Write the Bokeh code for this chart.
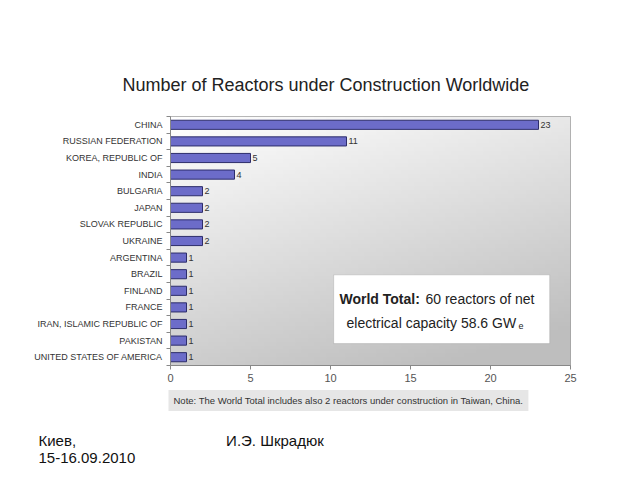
import numpy as np
from bokeh.plotting import figure
from bokeh.models import Label, Range1d, FixedTicker, ColumnDataSource, BoxAnnotation, Title
from bokeh.core.properties import value
from bokeh.embed import file_html
from bokeh.resources import INLINE

countries = ["CHINA", "RUSSIAN FEDERATION", "KOREA, REPUBLIC OF", "INDIA", "BULGARIA",
             "JAPAN", "SLOVAK REPUBLIC", "UKRAINE", "ARGENTINA", "BRAZIL", "FINLAND",
             "FRANCE", "IRAN, ISLAMIC REPUBLIC OF", "PAKISTAN", "UNITED STATES OF AMERICA"]
reactors = [23, 11, 5, 4, 2, 2, 2, 2, 1, 1, 1, 1, 1, 1, 1]
x_ticks = [0, 5, 10, 15, 20, 25]
title_text = "Number of Reactors under Construction Worldwide"
note_text = "Note: The World Total includes also 2 reactors under construction in Taiwan, China."
footer_place = "Киев,"
footer_date = "15-16.09.2010"
footer_author = "И.Э. Шкрадюк"

FONT = "Liberation Sans"
N = len(countries)
ypos = [N - i for i in range(N)]

p = figure(width=640, height=480, output_backend="svg", toolbar_location=None,
           y_range=Range1d(0.5, N + 0.5), x_range=Range1d(0, 25),
           min_border_left=170, min_border_right=70, min_border_top=116, min_border_bottom=114)
p.background_fill_color = "white"
p.border_fill_color = "white"
p.outline_line_color = "#a0a0a0"
p.grid.visible = False

p.title.text = title_text
p.title.text_font = FONT
p.title.text_font_size = "18px"
p.title.text_font_style = "normal"
p.title.text_color = "#222222"
p.title.align = "left"
p.title.offset = -48
p.title.standoff = 44

# gradient background
n = 64
gx, gy = np.meshgrid(np.linspace(0, 1, n), np.linspace(0, 1, n))
shade = 255 - 65 * np.clip(0.35 * gx + 0.75 * (1 - gy), 0, 1)
img = np.zeros((n, n), dtype=np.uint32)
view = img.view(dtype=np.uint8).reshape((n, n, 4))
view[:, :, 0] = shade
view[:, :, 1] = shade
view[:, :, 2] = shade
view[:, :, 3] = 255
p.image_rgba(image=[img], x=0, y=0.5, dw=25, dh=N)

src = ColumnDataSource(dict(y=ypos, right=reactors, lbl=[str(v) for v in reactors]))
p.hbar(y="y", right="right", left=0, height=0.55, source=src,
       fill_color="#6c6cc9", line_color="#2d2d6b", line_width=1)
p.text(x="right", y="y", text="lbl", source=src, x_offset=2, text_baseline="middle",
       text_font_size="9px", text_color="#333333", text_font=value(FONT))

# world total box
p.add_layout(BoxAnnotation(left=10.2, right=23.7, bottom=1.82, top=5.96,
                           fill_color="white", fill_alpha=1, line_color="#8a8a8a", line_width=1))

p.xaxis.ticker = FixedTicker(ticks=x_ticks)
p.xaxis.major_label_text_font = FONT
p.xaxis.major_label_text_font_size = "11px"
p.xaxis.major_label_text_color = "#555555"
p.xaxis.axis_line_color = "#888888"
p.xaxis.major_tick_line_color = "#888888"
p.xaxis.major_tick_in = 0
p.xaxis.major_tick_out = 4
p.xaxis.major_label_standoff = 4
p.xaxis.minor_tick_line_color = None
p.yaxis.ticker = FixedTicker(ticks=ypos, minor_ticks=[y + 0.5 for y in ypos] + [0.5])
p.yaxis.major_label_overrides = {y: c for y, c in zip(ypos, countries)}
p.yaxis.major_label_text_font = FONT
p.yaxis.major_label_text_font_size = "9px"
p.yaxis.major_label_text_color = "#333333"
p.yaxis.axis_line_color = "#888888"
p.yaxis.major_tick_line_color = None
p.yaxis.major_tick_out = 0
p.yaxis.major_tick_in = 0
p.yaxis.minor_tick_line_color = "#888888"
p.yaxis.minor_tick_in = 0
p.yaxis.minor_tick_out = 4
p.yaxis.major_label_standoff = 4

def lab(x, y, text, size, color="#222222", style="normal"):
    p.add_layout(Label(x=x, y=y, x_units="canvas", y_units="canvas", text=text,
                       text_font=FONT, text_font_size=size, text_color=color,
                       text_font_style=style, text_align="left", text_baseline="middle"))

lab(339, 298, "World Total:", "14px", style="bold")
lab(425, 298, "60 reactors of net", "14px")
lab(346, 322, "electrical capacity 58.6 GW", "14px")
lab(518, 325, "e", "9px")

# texts below the chart, stacked as title panels
p.add_layout(Title(text=note_text, align="left", offset=-2, standoff=7,
                   text_font=FONT, text_font_size="9.5px", text_font_style="normal",
                   text_color="#333333", background_fill_color="#e6e6e6", padding=5), "below")
gap = "\u00a0" * 36
p.add_layout(Title(text=footer_place + gap + footer_author + "\n" + footer_date,
                   align="left", offset=-132, standoff=30,
                   text_font=FONT, text_font_size="15px", text_font_style="normal",
                   text_color="#111111"), "below")

open("out.html", "w").write(file_html(p, INLINE))
